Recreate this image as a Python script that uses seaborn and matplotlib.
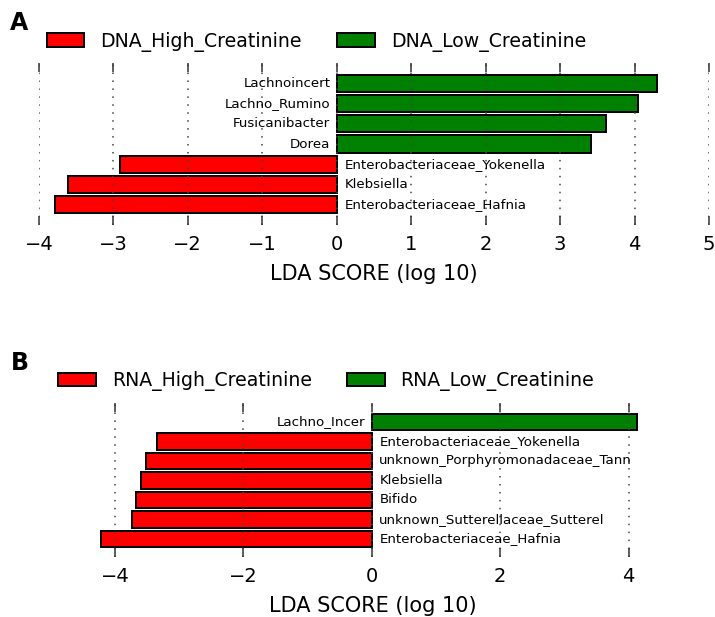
import matplotlib
matplotlib.use("Agg")
import matplotlib.pyplot as plt
from matplotlib.patches import Patch
import pandas as pd
import seaborn as sns

# Panel A: DNA-based LEfSe results
dna_taxa = ["Lachnoincert", "Lachno_Rumino", "Fusicanibacter", "Dorea",
            "Enterobacteriaceae_Yokenella", "Klebsiella", "Enterobacteriaceae_Hafnia"]
dna_lda = [4.30, 4.05, 3.61, 3.41, -2.91, -3.61, -3.79]
dna_groups = ["DNA_High_Creatinine", "DNA_Low_Creatinine"]

# Panel B: RNA-based LEfSe results
rna_taxa = ["Lachno_Incer", "Enterobacteriaceae_Yokenella",
            "unknown_Porphyromonadaceae_Tann", "Klebsiella", "Bifido",
            "unknown_Sutterellaceae_Sutterel", "Enterobacteriaceae_Hafnia"]
rna_lda = [4.13, -3.34, -3.52, -3.59, -3.67, -3.74, -4.21]
rna_groups = ["RNA_High_Creatinine", "RNA_Low_Creatinine"]

HIGH_COLOR = "#ff0000"
LOW_COLOR = "#008000"

plt.rcParams["font.family"] = ["DejaVu Sans"]

fig = plt.figure(figsize=(7.15, 6.17), dpi=100)
W, H = 715.0, 617.0


def lefse_panel(rect, taxa, scores, groups, xlim, ylim, ticks,
                legend_xy, letter, letter_xy):
    ax = fig.add_axes(rect)
    df = pd.DataFrame({
        "taxon": taxa,
        "score": scores,
        "group": [groups[0] if s < 0 else groups[1] for s in scores],
    })
    palette = {groups[0]: HIGH_COLOR, groups[1]: LOW_COLOR}
    sns.barplot(data=df, x="score", y="taxon", hue="group", palette=palette,
                dodge=False, orient="h", width=0.85, edgecolor="black",
                linewidth=1.4, saturation=1, legend=False, ax=ax)

    for i, (name, s) in enumerate(zip(taxa, scores)):
        if s >= 0:
            ax.annotate(name, (0, i), xytext=(-4.5, 0), textcoords="offset points",
                        ha="right", va="center", fontsize=9.6, zorder=4)
        else:
            ax.annotate(name, (0, i), xytext=(5.5, 0), textcoords="offset points",
                        ha="left", va="center", fontsize=9.6, zorder=4)

    ax.set_xlim(*xlim)
    ax.set_ylim(*ylim)
    ax.set_xticks(ticks)
    ax.set_xticklabels([f"{t:g}".replace("-", "\u2212") for t in ticks])
    ax.set_yticks([])
    ax.set_ylabel("")
    ax.set_xlabel("LDA SCORE (log 10)", fontsize=15, labelpad=7)
    for sp in ax.spines.values():
        sp.set_visible(False)
    ax.tick_params(axis="x", direction="in", length=6.5, width=1.1, color="#333333",
                   top=True, bottom=True, pad=7.5, labelsize=14)
    ax.set_axisbelow(False)
    ax.xaxis.grid(True, linestyle=(0, (1, 4.2)), color="#444444", linewidth=1.1)

    handles = [Patch(facecolor=HIGH_COLOR, edgecolor="black", linewidth=1.4),
               Patch(facecolor=LOW_COLOR, edgecolor="black", linewidth=1.4)]
    fig.legend(handles, groups, loc="center left",
               bbox_to_anchor=(legend_xy[0] / W, 1 - legend_xy[1] / H),
               ncol=2, frameon=False, fontsize=13.6, borderpad=0,
               handlelength=2.0, handleheight=0.7, handletextpad=0.85,
               columnspacing=1.85, borderaxespad=0)
    fig.text(letter_xy[0] / W, 1 - letter_xy[1] / H, letter, fontsize=17,
             fontweight="bold", ha="center", va="center")
    return ax


lefse_panel([38.9 / W, 1 - 225 / H, 670.1 / W, 162 / H],
            dna_taxa, dna_lda, dna_groups,
            xlim=(-4, 5), ylim=(7, -1), ticks=[-4, -3, -2, -1, 0, 1, 2, 3, 4, 5],
            legend_xy=(46.7, 41.5), letter="A", letter_xy=(19.5, 23.5))

lefse_panel([95.6 / W, 1 - 557 / H, 555.4 / W, 154 / H],
            rna_taxa, rna_lda, rna_groups,
            xlim=(-4.3, 4.35), ylim=(6.93, -0.97), ticks=[-4, -2, 0, 2, 4],
            legend_xy=(58, 381), letter="B", letter_xy=(20, 363))

fig.savefig("out.png", dpi=100)
